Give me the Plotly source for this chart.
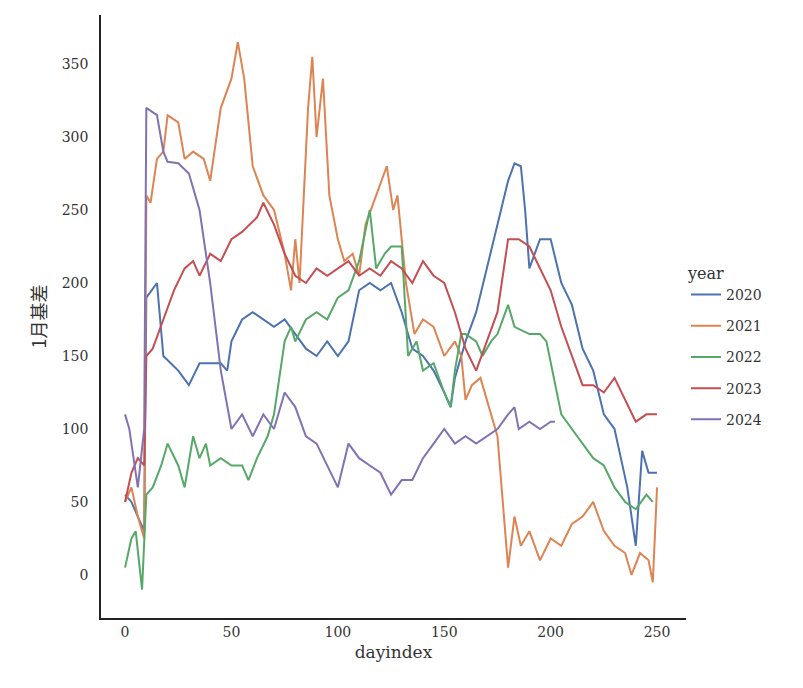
import plotly.graph_objects as go

years = ["2020", "2021", "2022", "2023", "2024"]
colors = ["#4c72b0", "#dd8452", "#55a868", "#c44e52", "#8172b3"]

x2020 = [0,3,6,9,10,15,18,25,30,35,45,48,50,55,60,65,70,75,80,85,90,95,100,105,110,115,120,125,130,135,140,145,150,153,155,158,160,165,170,175,180,183,186,188,190,195,200,205,210,215,220,225,230,233,236,240,243,246,250]
y2020 = [55,50,40,30,190,200,150,140,130,145,145,140,160,175,180,175,170,175,165,155,150,160,150,160,195,200,195,200,180,155,150,140,125,115,135,150,160,180,210,240,270,282,280,250,210,230,230,200,185,155,140,110,100,80,60,20,85,70,70]
x2021 = [0,3,6,9,10,12,15,18,20,25,28,32,37,40,45,50,53,56,60,65,70,75,78,80,82,86,88,90,93,96,100,103,107,110,113,118,123,126,128,130,132,136,140,145,150,155,158,160,163,167,170,175,180,183,186,190,195,200,205,210,215,220,225,230,235,238,242,246,248,250]
y2021 = [50,60,40,25,260,255,285,290,315,310,285,290,285,270,320,340,365,340,280,260,250,220,195,230,200,320,355,300,340,260,230,215,220,205,240,260,280,250,260,230,200,165,175,170,150,160,150,120,130,135,120,95,5,40,20,30,10,25,20,35,40,50,30,20,15,0,15,10,-5,60]
x2022 = [0,3,5,8,10,13,17,20,25,28,32,35,38,40,45,50,55,58,62,67,70,75,78,80,85,90,95,100,105,110,115,118,122,125,130,133,137,140,145,150,153,155,158,160,165,168,172,175,180,183,190,195,198,202,205,210,215,220,225,230,235,240,245,248]
y2022 = [5,25,30,-10,55,60,75,90,75,60,95,80,90,75,80,75,75,65,80,95,110,160,170,160,175,180,175,190,195,215,250,210,220,225,225,150,160,140,145,125,115,140,165,165,160,150,160,165,185,170,165,165,160,130,110,100,90,80,75,60,50,45,55,50]
x2023 = [0,3,6,9,10,13,18,23,28,32,35,40,45,50,55,62,65,70,75,80,85,90,95,100,105,110,115,120,125,130,135,140,145,150,155,160,165,170,175,180,185,190,195,200,205,210,215,220,225,230,235,240,245,250]
y2023 = [50,70,80,75,150,155,175,195,210,215,205,220,215,230,235,245,255,240,220,205,200,210,205,210,215,205,210,205,215,210,200,215,205,200,180,155,140,160,180,230,230,225,210,195,170,150,130,130,125,135,120,105,110,110]
x2024 = [0,2,4,6,9,10,15,18,20,25,30,35,40,45,50,55,60,65,70,75,80,85,90,95,100,105,110,115,120,125,130,135,140,145,150,155,160,165,170,175,180,183,185,190,195,200,202]
y2024 = [110,100,80,60,100,320,315,290,283,282,275,250,200,140,100,110,95,110,100,125,115,95,90,75,60,90,80,75,70,55,65,65,80,90,100,90,95,90,95,100,110,115,100,105,100,105,105]

xs = [x2020, x2021, x2022, x2023, x2024]
ys = [y2020, y2021, y2022, y2023, y2024]

font = "DejaVu Serif"
fig = go.Figure()
for yr, c, x, y in zip(years, colors, xs, ys):
    fig.add_trace(go.Scatter(x=x, y=y, mode="lines", name=yr, legendgroup=yr,
                             line=dict(color=c, width=2)))

fig.update_layout(
    width=803, height=688, plot_bgcolor="white", paper_bgcolor="white",
    margin=dict(l=93, r=125, t=7, b=78),
    font=dict(family=font, size=14, color="#333"),
    legend=dict(title=dict(text="year", font=dict(size=16)), x=1.0, y=0.45, yanchor="middle",
                font=dict(size=14), bgcolor="rgba(0,0,0,0)", tracegroupgap=10),
    xaxis=dict(range=[-11.3, 263.6], tickvals=[0,50,100,150,200,250], showgrid=False, zeroline=False,
               showline=True, linecolor="#222", linewidth=1.5, ticks="", ticklen=8, tickcolor="white",
               title=dict(text="dayindex", font=dict(size=17), standoff=8)),
    yaxis=dict(range=[-29.5, 383.6], tickvals=[0,50,100,150,200,250,300,350], showgrid=False, zeroline=False,
               showline=True, linecolor="#222", linewidth=1.5, ticks="outside", ticklen=8, tickcolor="white",
               title=dict(text="1月基差", font=dict(size=18, family="Noto Sans CJK SC"), standoff=10)),
)
fig.write_html("out.html")
